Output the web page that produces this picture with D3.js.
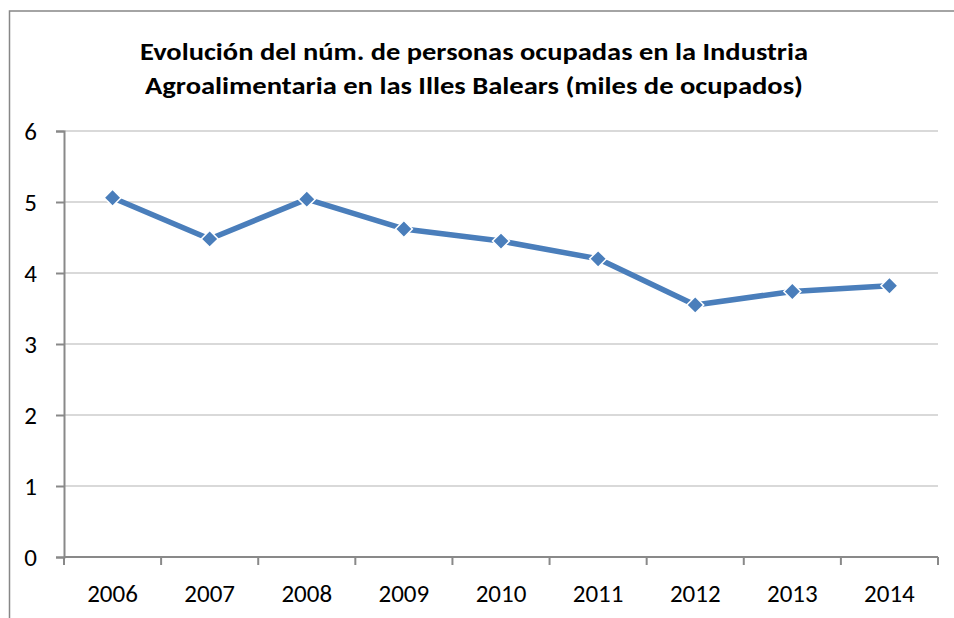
<!DOCTYPE html>
<html>
<head>
<meta charset="utf-8">
<script src="https://cdn.jsdelivr.net/npm/d3@7"></script>
<style>
  body { margin: 0; background: #fff; }
  svg { display: block; }
  text { font-family: Carlito, "Open Sans", "Liberation Sans", sans-serif; }
</style>
</head>
<body>
<div id="chart"></div>
<script>
const years = ['2006', '2007', '2008', '2009', '2010', '2011', '2012', '2013', '2014'];
const ocupados = [5.06, 4.48, 5.04, 4.62, 4.45, 4.20, 3.55, 3.74, 3.82];
const yTicks = [0, 1, 2, 3, 4, 5, 6];
const titleLines = [
  'Evolución del núm. de personas ocupadas en la Industria',
  'Agroalimentaria en las Illes Balears (miles de ocupados)'
];

const width = 954, height = 618;
const margin = { top: 131, right: 16, bottom: 61, left: 64 };

const svg = d3.select('#chart')
  .append('svg')
  .attr('width', width)
  .attr('height', height);

// marco exterior
svg.append('rect')
  .attr('x', 9.5).attr('y', 11)
  .attr('width', 1000).attr('height', 700)
  .attr('fill', 'none')
  .attr('stroke', '#878787')
  .attr('stroke-width', 1.5);

// titulo
const title = svg.append('text')
  .attr('text-anchor', 'middle')
  .attr('font-weight', 'bold')
  .attr('font-size', 25)
  .attr('fill', '#000');
title.selectAll('tspan')
  .data(titleLines)
  .join('tspan')
  .attr('x', 474)
  .attr('y', (d, i) => 60 + i * 34)
  .attr('textLength', (d, i) => i === 0 ? 668 : 658)
  .attr('lengthAdjust', 'spacingAndGlyphs')
  .text(d => d);

const x = d3.scaleBand()
  .domain(years)
  .range([margin.left, width - margin.right]);

const y = d3.scaleLinear()
  .domain([0, 6])
  .range([557, margin.top]);

// lineas de cuadricula
svg.append('g')
  .selectAll('line')
  .data(yTicks.filter(d => d > 0))
  .join('line')
  .attr('x1', margin.left)
  .attr('x2', width - margin.right)
  .attr('y1', d => y(d))
  .attr('y2', d => y(d))
  .attr('stroke', '#d9d9d9')
  .attr('stroke-width', 2);

// eje Y
const yAxis = svg.append('g')
  .attr('transform', `translate(${margin.left},0)`)
  .call(d3.axisLeft(y).tickValues(yTicks).tickFormat(d3.format('d')).tickSize(8).tickPadding(19));
yAxis.select('.domain').attr('stroke', '#898989').attr('stroke-width', 2);
yAxis.selectAll('.tick line').attr('stroke', '#898989').attr('stroke-width', 2);
yAxis.selectAll('.tick text')
  .attr('font-size', 25)
  .attr('fill', '#000')
  .attr('font-family', 'Carlito, "Open Sans", sans-serif');

// eje X
const bounds = years.map(d => x(d)).concat([x.range()[1]]);
const xAxisG = svg.append('g');
xAxisG.append('line')
  .attr('x1', margin.left).attr('x2', width - margin.right)
  .attr('y1', 557).attr('y2', 557)
  .attr('stroke', '#898989').attr('stroke-width', 2);
xAxisG.selectAll('line.tk')
  .data(bounds)
  .join('line')
  .attr('class', 'tk')
  .attr('x1', d => d).attr('x2', d => d)
  .attr('y1', 557).attr('y2', 565)
  .attr('stroke', '#898989').attr('stroke-width', 2);
xAxisG.selectAll('text')
  .data(years)
  .join('text')
  .attr('x', d => x(d) + x.bandwidth() / 2)
  .attr('y', 602)
  .attr('text-anchor', 'middle')
  .attr('font-size', 25)
  .attr('fill', '#000')
  .text(d => d);

// serie
const pts = years.map((d, i) => [x(d) + x.bandwidth() / 2, y(ocupados[i])]);

svg.append('path')
  .datum(pts)
  .attr('d', d3.line())
  .attr('fill', 'none')
  .attr('stroke', '#4a7ebb')
  .attr('stroke-width', 5.5)
  .attr('stroke-linejoin', 'round');

svg.append('g')
  .selectAll('path')
  .data(pts)
  .join('path')
  .attr('transform', d => `translate(${d[0]},${d[1]}) rotate(45)`)
  .attr('d', 'M-6,-6H6V6H-6Z')
  .attr('fill', '#4a7ebb')
  .attr('stroke', '#fff')
  .attr('stroke-width', 1.5);
</script>
</body>
</html>
